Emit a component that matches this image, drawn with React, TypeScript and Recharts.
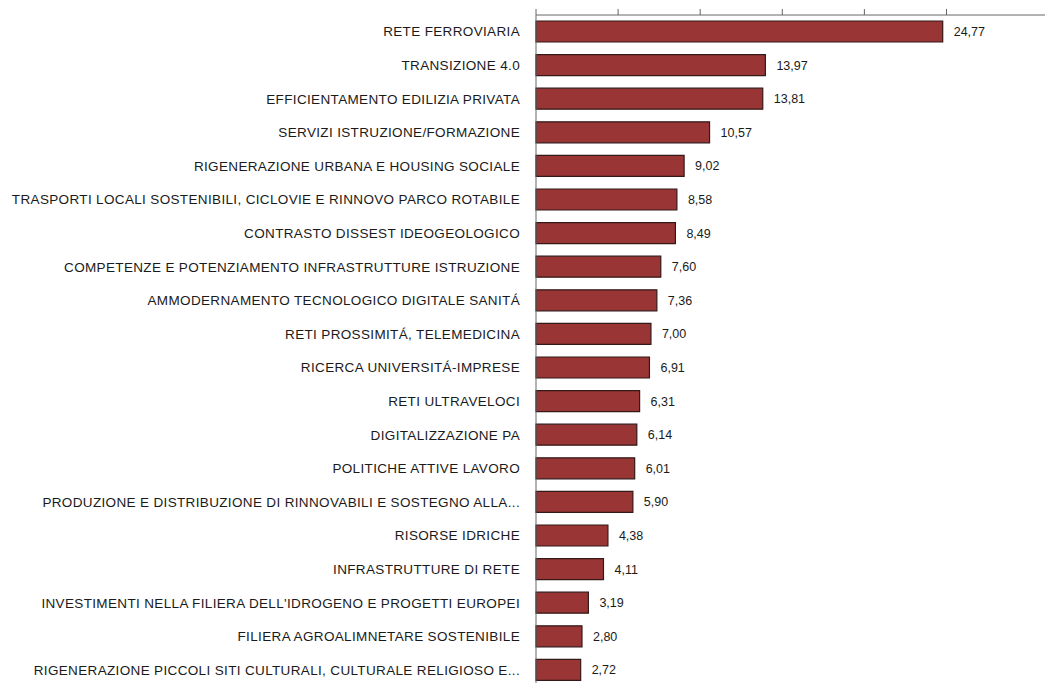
import React from 'react';
import { BarChart, Bar, XAxis, YAxis, LabelList } from 'recharts';

const categories = [
  'RETE FERROVIARIA',
  'TRANSIZIONE 4.0',
  'EFFICIENTAMENTO EDILIZIA PRIVATA',
  'SERVIZI ISTRUZIONE/FORMAZIONE',
  'RIGENERAZIONE URBANA E HOUSING SOCIALE',
  'TRASPORTI LOCALI SOSTENIBILI, CICLOVIE E RINNOVO PARCO ROTABILE',
  'CONTRASTO DISSEST IDEOGEOLOGICO',
  'COMPETENZE E POTENZIAMENTO INFRASTRUTTURE ISTRUZIONE',
  'AMMODERNAMENTO TECNOLOGICO DIGITALE SANITÁ',
  'RETI PROSSIMITÁ, TELEMEDICINA',
  'RICERCA UNIVERSITÁ-IMPRESE',
  'RETI ULTRAVELOCI',
  'DIGITALIZZAZIONE PA',
  'POLITICHE ATTIVE LAVORO',
  'PRODUZIONE E DISTRIBUZIONE DI RINNOVABILI E SOSTEGNO ALLA...',
  'RISORSE IDRICHE',
  'INFRASTRUTTURE DI RETE',
  "INVESTIMENTI NELLA FILIERA DELL'IDROGENO E PROGETTI EUROPEI",
  'FILIERA AGROALIMNETARE SOSTENIBILE',
  'RIGENERAZIONE PICCOLI SITI CULTURALI, CULTURALE RELIGIOSO E...',
];

const values = [
  24.77, 13.97, 13.81, 10.57, 9.02, 8.58, 8.49, 7.6, 7.36, 7.0,
  6.91, 6.31, 6.14, 6.01, 5.9, 4.38, 4.11, 3.19, 2.8, 2.72,
];

const xTicks = [0, 5, 10, 15, 20, 25];

const data = categories.map((name, i) => ({ name, value: values[i] }));

const fmt = (v: any) => Number(v).toFixed(2).replace('.', ',');

// plain text tick so the long names never wrap
const CategoryTick = (props: any) => {
  const { x, y, payload } = props;
  return (
    <text
      x={x - 8}
      y={y}
      textAnchor="end"
      dominantBaseline="central"
      fontSize={13.5}
      letterSpacing={0.35}
      fill="#1a1a1a"
    >
      {payload.value}
    </text>
  );
};

export default function App() {
  return (
    <div style={{ position: 'absolute', left: 0, top: 0, width: 1045, height: 683, overflow: 'hidden', background: '#fff' }}>
      <BarChart
        width={1045}
        height={687}
        data={data}
        layout="vertical"
        margin={{ top: 0, right: 0, left: 0, bottom: 0 }}
        style={{ fontFamily: '"Liberation Sans", Arial, sans-serif' }}
      >
        <XAxis
          type="number"
          orientation="top"
          height={15}
          domain={[0, 31]}
          ticks={xTicks}
          tickSize={6}
          tickFormatter={() => ''}
          stroke="#666"
        />
        <YAxis
          type="category"
          dataKey="name"
          width={536}
          tickLine={false}
          axisLine={{ stroke: '#666' }}
          interval={0}
          tick={<CategoryTick />}
        />
        <Bar dataKey="value" barSize={21} fill="#9a3535" stroke="#351818" strokeWidth={1.2} isAnimationActive={false}>
          <LabelList dataKey="value" position="right" offset={11} formatter={fmt} style={{ fontSize: 12.5, fill: '#1a1a1a' }} />
        </Bar>
      </BarChart>
    </div>
  );
}
